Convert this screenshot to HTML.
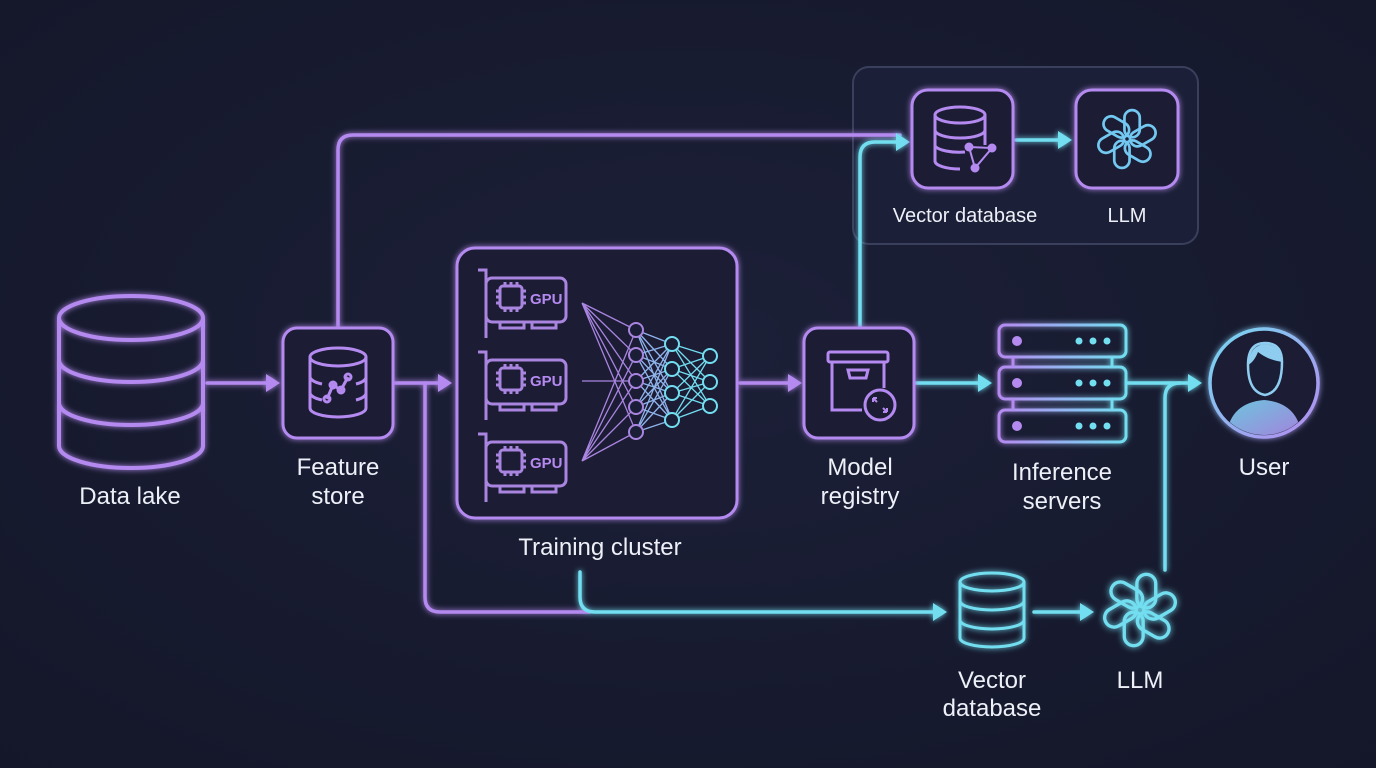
<!DOCTYPE html>
<html><head><meta charset="utf-8"><style>
html,body{margin:0;padding:0;background:#171b31;}
svg{display:block}
text{font-family:"Liberation Sans",sans-serif;fill:#eef0f8;}
</style></head><body>
<svg width="1376" height="768" viewBox="0 0 1376 768" xmlns="http://www.w3.org/2000/svg">
<defs>
<radialGradient id="bg" cx="50%" cy="45%" r="75%"><stop offset="0" stop-color="#1c2038"/><stop offset="1" stop-color="#141729"/></radialGradient>
<filter id="glow" x="-20%" y="-20%" width="140%" height="140%"><feGaussianBlur stdDeviation="3" result="b"/><feMerge><feMergeNode in="b"/><feMergeNode in="SourceGraphic"/></feMerge></filter>
<linearGradient id="pc" x1="0" x2="1"><stop offset="0" stop-color="#b58af0"/><stop offset="1" stop-color="#72def0"/></linearGradient>
<linearGradient id="userg" x1="0" y1="0" x2="1" y2="1"><stop offset="0" stop-color="#74d9f0"/><stop offset="1" stop-color="#b58af0"/></linearGradient>
<g id="openai" fill="none" stroke-width="3.2">
  <rect x="-3" y="-34" width="18" height="32" rx="9"/>
  <rect x="-3" y="-34" width="18" height="32" rx="9" transform="rotate(60)"/>
  <rect x="-3" y="-34" width="18" height="32" rx="9" transform="rotate(120)"/>
  <rect x="-3" y="-34" width="18" height="32" rx="9" transform="rotate(180)"/>
  <rect x="-3" y="-34" width="18" height="32" rx="9" transform="rotate(240)"/>
  <rect x="-3" y="-34" width="18" height="32" rx="9" transform="rotate(300)"/>
</g>
<g id="gpu" fill="none" stroke="#a985e0" stroke-width="3">
  <path d="M0 0 H8 V68"/>
  <rect x="8" y="8" width="80" height="44" rx="6"/>
  <rect x="22" y="16" width="22" height="22" rx="3"/>
  <path d="M18 21h4M18 27h4M18 33h4M44 21h4M44 27h4M44 33h4M27 12v4M33 12v4M39 12v4M27 38v4M33 38v4M39 38v4"/>
  <rect x="22" y="52" width="24" height="6"/><rect x="54" y="52" width="24" height="6"/>
  <text x="52" y="34" font-size="15" font-weight="bold" fill="#b58af0" stroke="none" style="fill:#b58af0">GPU</text>
</g>
</defs>
<rect width="1376" height="768" fill="url(#bg)"/>

<rect x="853" y="67" width="345" height="177" rx="16" fill="#1b1f37" stroke="#3a3f5c" stroke-width="2"/>

<g fill="none" stroke-width="3.5" filter="url(#glow)" stroke-linecap="round">
  <path d="M207 383 H268" stroke="#b58af0"/>
  <path d="M338 328 V150 Q338 135 353 135 H900" stroke="#b58af0"/>
  <path d="M394 383 H440" stroke="#b58af0"/>
  <path d="M425 383 V597 Q425 612 440 612 H590" stroke="#b58af0"/>
  <path d="M740 383 H790" stroke="#b58af0"/>
  <path d="M860 328 V157 Q860 142 875 142 H898" stroke="#72def0"/>
  <path d="M1016 140 H1060" stroke="#72def0"/>
  <path d="M916 383 H980" stroke="#72def0"/>
  <path d="M1128 383 H1190" stroke="#72def0"/>
  <path d="M1165 570 V398 Q1165 383 1180 383" stroke="#72def0"/>
  <path d="M580 572 V597 Q580 612 595 612 H935" stroke="#72def0"/>
  <path d="M1034 612 H1082" stroke="#72def0"/>
</g>
<g filter="url(#glow)">
  <path d="M266 374 L280 383 L266 392Z" fill="#b58af0"/>
  <path d="M438 374 L452 383 L438 392Z" fill="#b58af0"/>
  <path d="M788 374 L802 383 L788 392Z" fill="#b58af0"/>
  <path d="M896 133 L910 142 L896 151Z" fill="#72def0"/>
  <path d="M1058 131 L1072 140 L1058 149Z" fill="#72def0"/>
  <path d="M978 374 L992 383 L978 392Z" fill="#72def0"/>
  <path d="M1188 374 L1202 383 L1188 392Z" fill="#72def0"/>
  <path d="M933 603 L947 612 L933 621Z" fill="#72def0"/>
  <path d="M1080 603 L1094 612 L1080 621Z" fill="#72def0"/>
</g>

<g fill="none" stroke="#b58af0" stroke-width="4" filter="url(#glow)">
  <ellipse cx="131" cy="318" rx="72" ry="22"/>
  <path d="M59 318 V446 A72 22 0 0 0 203 446 V318"/>
  <path d="M59 360 A72 22 0 0 0 203 360"/>
  <path d="M59 403 A72 22 0 0 0 203 403"/>
</g>
<text x="130" y="504" font-size="24" text-anchor="middle">Data lake</text>

<g fill="none" stroke="#b58af0" stroke-width="3" filter="url(#glow)">
  <rect x="283" y="328" width="110" height="110" rx="14" fill="#1a1e36"/>
  <ellipse cx="338" cy="357" rx="28" ry="9"/>
  <path d="M310 357 V408 A28 9 0 0 0 366 408 V357"/>
  <path d="M310 377 A28 9 0 0 0 322 384 M356 384 A28 9 0 0 0 366 377"/>
  <path d="M310 393 A28 9 0 0 0 322 400 M356 400 A28 9 0 0 0 366 393"/>
  <path d="M327 399 L333 385 L341 390 L348 377"/>
  <circle cx="327" cy="399" r="3"/><circle cx="333" cy="385" r="3"/><circle cx="341" cy="390" r="3"/><circle cx="348" cy="377" r="3"/>
</g>
<text x="338" y="475" font-size="24" text-anchor="middle">Feature</text>
<text x="338" y="504" font-size="24" text-anchor="middle">store</text>

<rect x="457" y="248" width="280" height="270" rx="18" fill="#1a1e36" stroke="#b58af0" stroke-width="3" filter="url(#glow)"/>
<use href="#gpu" x="478" y="270"/>
<use href="#gpu" x="478" y="352"/>
<use href="#gpu" x="478" y="434"/>
<g stroke-width="1.3" fill="none">
  <g stroke="#a985e0">
    <path d="M582 303 L636 330 M582 303 L636 355 M582 303 L636 381 M582 303 L636 407 M582 303 L636 432"/>
    <path d="M582 381 L636 381"/>
    <path d="M582 461 L636 330 M582 461 L636 355 M582 461 L636 381 M582 461 L636 407 M582 461 L636 432"/>
  </g>
  <g stroke="#8fb4ec">
    <path d="M636 330 L672 344 M636 330 L672 369 M636 330 L672 393 M636 330 L672 420 M636 355 L672 344 M636 355 L672 369 M636 355 L672 393 M636 355 L672 420 M636 381 L672 344 M636 381 L672 369 M636 381 L672 393 M636 381 L672 420 M636 407 L672 344 M636 407 L672 369 M636 407 L672 393 M636 407 L672 420 M636 432 L672 344 M636 432 L672 369 M636 432 L672 393 M636 432 L672 420"/>
  </g>
  <g stroke="#72def0">
    <path d="M672 344 L710 356 M672 344 L710 382 M672 344 L710 406 M672 369 L710 356 M672 369 L710 382 M672 369 L710 406 M672 393 L710 356 M672 393 L710 382 M672 393 L710 406 M672 420 L710 356 M672 420 L710 382 M672 420 L710 406"/>
  </g>
</g>
<g fill="#1a1e36" stroke-width="2">
  <g stroke="#a985e0"><circle cx="636" cy="330" r="7"/><circle cx="636" cy="355" r="7"/><circle cx="636" cy="381" r="7"/><circle cx="636" cy="407" r="7"/><circle cx="636" cy="432" r="7"/></g>
  <g stroke="#72def0"><circle cx="672" cy="344" r="7"/><circle cx="672" cy="369" r="7"/><circle cx="672" cy="393" r="7"/><circle cx="672" cy="420" r="7"/>
  <circle cx="710" cy="356" r="7"/><circle cx="710" cy="382" r="7"/><circle cx="710" cy="406" r="7"/></g>
</g>
<text x="600" y="555" font-size="24" text-anchor="middle">Training cluster</text>

<g fill="none" stroke="#b58af0" stroke-width="3" filter="url(#glow)">
  <rect x="804" y="328" width="110" height="110" rx="14" fill="#1a1e36"/>
  <rect x="828" y="352" width="60" height="10" rx="2"/>
  <path d="M832 362 V410 H862 M884 362 V388"/>
  <path d="M848 370 H868 L866 378 H850Z"/>
  <circle cx="880" cy="405" r="15" fill="#1a1e36"/>
  <path d="M873 398 l4 4 M873 398 h4 M873 398 v4 M887 412 l-4 -4 M887 412 h-4 M887 412 v-4" stroke-width="2"/>
</g>
<text x="860" y="475" font-size="24" text-anchor="middle">Model</text>
<text x="860" y="504" font-size="24" text-anchor="middle">registry</text>

<g fill="none" stroke="#b58af0" stroke-width="3" filter="url(#glow)">
  <rect x="912" y="90" width="101" height="98" rx="16" fill="#1a1e36"/>
  <ellipse cx="960" cy="115" rx="25" ry="8"/>
  <path d="M935 115 V161 A25 8 0 0 0 960 169 M985 115 V145"/>
  <path d="M935 130 A25 8 0 0 0 985 130 M935 146 A25 8 0 0 0 965 152"/>
  <path d="M969 147 L992 148 L975 168 Z" stroke-width="2"/>
  <circle cx="969" cy="147" r="3" fill="#b58af0"/><circle cx="992" cy="148" r="3" fill="#b58af0"/><circle cx="975" cy="168" r="3" fill="#b58af0"/>
</g>
<text x="965" y="222" font-size="20" text-anchor="middle">Vector database</text>

<rect x="1076" y="90" width="102" height="98" rx="16" fill="#1a1e36" stroke="#b58af0" stroke-width="3" filter="url(#glow)"/>
<use href="#openai" stroke="#72c8f0" transform="translate(1127 139) scale(0.85)"/>
<text x="1127" y="222" font-size="20" text-anchor="middle">LLM</text>

<g fill="none" stroke="url(#pc)" stroke-width="3" filter="url(#glow)">
  <rect x="999" y="325" width="127" height="32" rx="6"/>
  <rect x="999" y="367" width="127" height="32" rx="6"/>
  <rect x="999" y="410" width="127" height="32" rx="6"/>
  <path d="M1013 357 V367 M1112 357 V367 M1013 399 V410 M1112 399 V410"/>
</g>
<g fill="#b58af0"><circle cx="1017" cy="341" r="5"/><circle cx="1017" cy="383" r="5"/><circle cx="1017" cy="426" r="5"/></g>
<g fill="#72def0">
  <circle cx="1079" cy="341" r="3.5"/><circle cx="1093" cy="341" r="3.5"/><circle cx="1107" cy="341" r="3.5"/>
  <circle cx="1079" cy="383" r="3.5"/><circle cx="1093" cy="383" r="3.5"/><circle cx="1107" cy="383" r="3.5"/>
  <circle cx="1079" cy="426" r="3.5"/><circle cx="1093" cy="426" r="3.5"/><circle cx="1107" cy="426" r="3.5"/>
</g>
<text x="1062" y="480" font-size="24" text-anchor="middle">Inference</text>
<text x="1062" y="509" font-size="24" text-anchor="middle">servers</text>

<circle cx="1264" cy="383" r="54" fill="#1a1e36" stroke="url(#userg)" stroke-width="3.5" filter="url(#glow)"/>
<clipPath id="uc"><circle cx="1264" cy="383" r="52"/></clipPath>
<g clip-path="url(#uc)">
  <path d="M1226 440 Q1228 403 1264 400 Q1300 403 1302 440Z" fill="url(#userg)" opacity="0.9"/>
</g>
<path d="M1248 365 Q1248 343 1265 343 Q1282 343 1282 362 Q1282 392 1265 395 Q1248 392 1248 365Z" fill="#1a1e36" stroke="#8fcdf0" stroke-width="2.5"/>
<path d="M1248 365 Q1250 345 1265 344 Q1282 345 1282 362 Q1268 360 1258 352 Q1254 362 1248 365Z" fill="#8fcdf0"/>
<text x="1264" y="475" font-size="24" text-anchor="middle">User</text>

<g fill="none" stroke="#72def0" stroke-width="3" filter="url(#glow)">
  <ellipse cx="992" cy="582" rx="32" ry="9"/>
  <path d="M960 582 V638 A32 9 0 0 0 1024 638 V582"/>
  <path d="M960 601 A32 9 0 0 0 1024 601 M960 620 A32 9 0 0 0 1024 620"/>
</g>
<text x="992" y="688" font-size="24" text-anchor="middle">Vector</text>
<text x="992" y="716" font-size="24" text-anchor="middle">database</text>

<use href="#openai" stroke="#72def0" transform="translate(1140 610) scale(1.05)" filter="url(#glow)"/>
<text x="1140" y="688" font-size="24" text-anchor="middle">LLM</text>
</svg>
</body></html>
